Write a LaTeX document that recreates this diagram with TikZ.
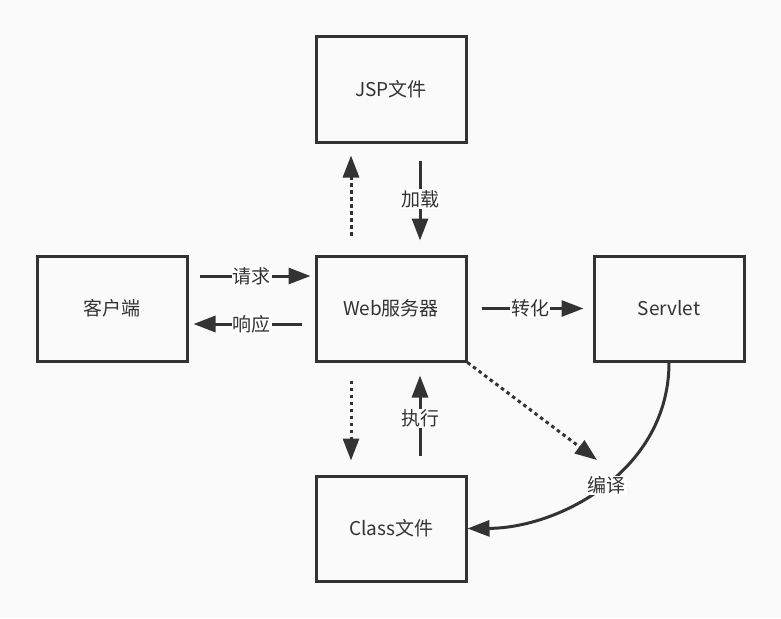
\documentclass[tikz,border=0pt]{standalone}
\usepackage{fontspec}
\setmainfont{Noto Sans CJK SC}
\usetikzlibrary{arrows.meta,calc}
\definecolor{bgcol}{HTML}{FAFAFA}
\definecolor{ink}{HTML}{333333}

\begin{document}
\begin{tikzpicture}[x=1pt,y=1pt,yscale=-1,xscale=1,
  font=\fontsize{19}{23}\selectfont,
  box/.style={draw=ink,line width=3pt,minimum width=150pt,minimum height=105pt,text=ink},
  lab/.style={fill=white,inner sep=1pt,text=ink},
  link/.style={draw=ink,line width=3pt,-{Triangle[length=22pt,width=16pt]}},
  dotlink/.style={link,dash pattern=on 3.5pt off 3.5pt}]
\fill[bgcol] (0,0) rectangle (781,618);
\useasboundingbox (0,0) rectangle (781,618);
% boxes
\node[box] (jsp) at (391,89.5) {JSP文件};
\node[box] (client) at (112,308.5) {客户端};
\node[box] (web) at (391,308.5) {Web服务器};
\node[box] (servlet) at (669,308.5) {Servlet};
\node[box] (class) at (391,528.5) {Class文件};
\coordinate (diagend) at (597,460);
% client <-> web
\draw[link,shorten <=11pt,shorten >=4pt] ($(client.east)+(0,-32.5)$) -- node[lab] {请求} ($(web.west)+(0,-32.5)$);
\draw[link,shorten <=13pt,shorten >=5pt] ($(web.west)+(0,15.5)$) -- node[lab] {响应} ($(client.east)+(0,15.5)$);
% web <-> jsp
\draw[dotlink,shorten <=19pt,shorten >=12pt] ($(web.north)+(-40,0)$) -- ($(jsp.south)+(-40,0)$);
\draw[link,shorten <=17pt,shorten >=14pt] ($(jsp.south)+(29,0)$) -- node[lab] {加载} ($(web.north)+(29,0)$);
% web <-> class
\draw[dotlink,shorten <=18pt,shorten >=14pt] ($(web.south)+(-40,0)$) -- ($(class.north)+(-40,0)$);
\draw[link,shorten <=19pt,shorten >=13pt] ($(class.north)+(29,0)$) -- node[lab] {执行} ($(web.south)+(29,0)$);
% web -> servlet
\draw[link,shorten <=14pt,shorten >=9pt] (web.east) -- node[lab] {转化} (servlet.west);
% compile
\draw[dotlink] (web.south east) -- (diagend);
\draw[link] (servlet.south) .. controls (669,470) and (560,528) .. node[lab,pos=0.5,xshift=4pt] (compile) {编译} (class.east);
\end{tikzpicture}
\end{document}
